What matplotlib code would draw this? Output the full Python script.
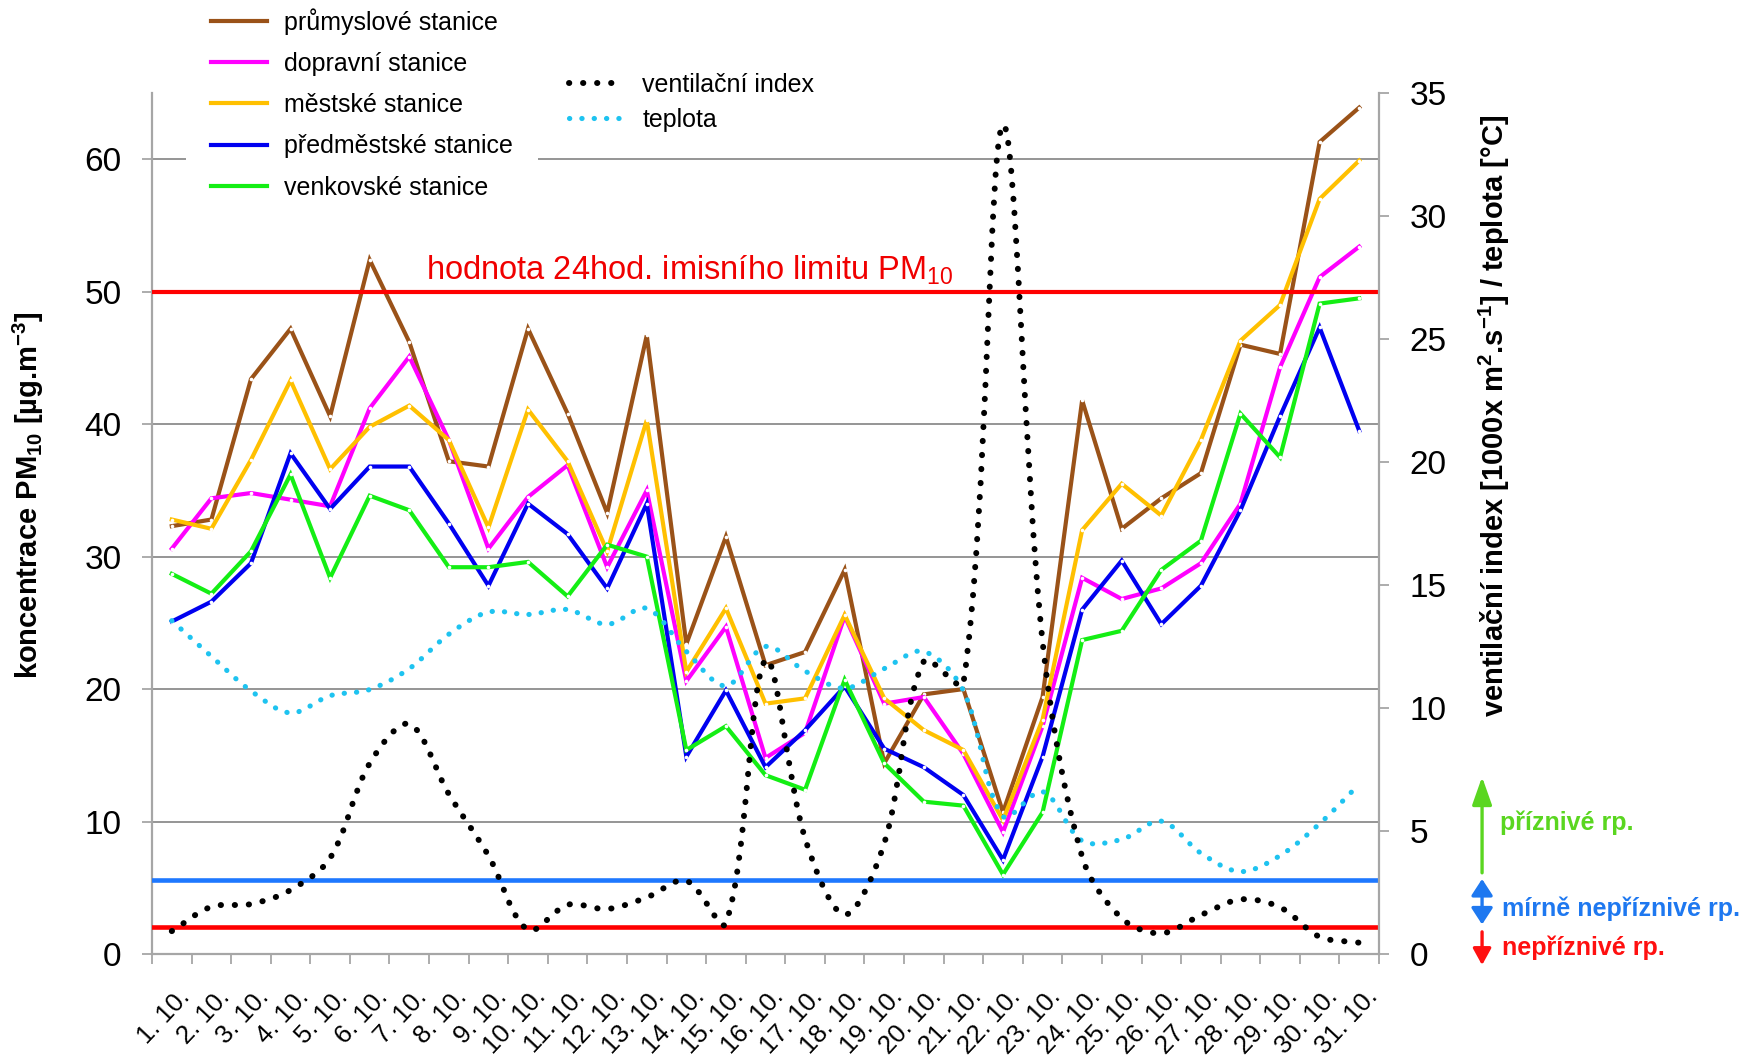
import numpy as np
import matplotlib
matplotlib.use("Agg")
import matplotlib.pyplot as plt
import matplotlib.transforms as mtransforms
from matplotlib.path import Path
from matplotlib.patches import PathPatch, FancyArrowPatch
from matplotlib.lines import Line2D

# ---------------- data ----------------
days = [f"{d}. 10." for d in range(1, 32)]

prumyslove = [32.3, 32.8, 43.4, 47.2, 40.6, 52.4, 46.2, 37.2, 36.8, 47.2, 40.8, 33.3, 46.7,
              23.4, 31.5, 21.8, 22.8, 29.0, 14.4, 19.6, 20.0, 10.7, 19.4, 41.8, 32.1, 34.4,
              36.3, 46.0, 45.3, 61.3, 63.9]
dopravni = [30.6, 34.4, 34.8, 34.3, 33.8, 41.2, 45.1, 38.8, 30.6, 34.5, 36.9, 29.2, 35.0,
            20.6, 24.7, 14.8, 16.7, 25.5, 18.9, 19.4, 15.1, 9.2, 17.2, 28.4, 26.8, 27.6,
            29.5, 34.0, 44.3, 51.1, 53.4]
mestske = [32.8, 32.1, 37.3, 43.3, 36.6, 39.8, 41.4, 38.8, 32.2, 41.1, 37.2, 30.4, 40.3,
           21.3, 26.1, 18.9, 19.3, 25.6, 19.3, 16.9, 15.4, 10.1, 17.7, 32.0, 35.5, 33.1,
           38.8, 46.3, 49.0, 57.0, 59.9]
predmestske = [25.1, 26.6, 29.5, 37.8, 33.6, 36.8, 36.8, 32.5, 27.8, 34.0, 31.7, 27.6, 34.0,
               14.9, 19.9, 14.1, 16.9, 20.2, 15.5, 14.1, 12.0, 7.1, 14.9, 26.0, 29.7, 24.9,
               27.8, 33.5, 40.6, 47.3, 39.5]
venkovske = [28.7, 27.2, 30.4, 36.2, 28.4, 34.6, 33.5, 29.2, 29.2, 29.6, 27.0, 30.9, 30.0,
             15.4, 17.2, 13.5, 12.4, 20.7, 14.4, 11.5, 11.2, 6.0, 10.7, 23.7, 24.4, 29.0,
             31.2, 40.8, 37.5, 49.1, 49.5]
ventilacni = [0.93, 1.92, 2.03, 2.6, 3.9, 7.75, 9.35, 6.5, 4.0, 0.98, 2.0, 1.83, 2.3,
              2.98, 1.25, 11.95, 4.7, 1.6, 4.5, 11.9, 11.0, 33.7, 12.7, 3.95, 1.45, 0.84,
              1.58, 2.22, 1.9, 0.7, 0.46]
teplota = [13.55, 12.1, 10.7, 9.8, 10.5, 10.75, 11.6, 13.0, 13.9, 13.8, 14.0, 13.4, 14.05,
           12.3, 10.9, 12.5, 11.5, 10.8, 11.6, 12.3, 10.7, 5.6, 6.6, 4.6, 4.66, 5.4, 4.1,
           3.35, 4.0, 5.3, 6.9]

limit_pm10 = 50
vi_favourable = 3.0
vi_unfavourable = 1.1

pm_series = [
    ("průmyslové stanice", prumyslove, "#9A5218"),
    ("dopravní stanice", dopravni, "#FF00FF"),
    ("městské stanice", mestske, "#FFC000"),
    ("předměstské stanice", predmestske, "#0000F0"),
    ("venkovské stanice", venkovske, "#14EE14"),
]

# ---------------- style ----------------
plt.rcParams["font.family"] = ["Liberation Sans", "DejaVu Sans"]
plt.rcParams["mathtext.default"] = "regular"

SPINE = "#A6A6A6"
GRID = "#8C8C8C"

fig = plt.figure(figsize=(17.44, 10.62), dpi=100)
ax1 = fig.add_axes([152 / 1744, 1 - 954 / 1062, (1379 - 152) / 1744, (954 - 93) / 1062])
ax2 = ax1.twinx()

x = np.arange(len(days))
ax1.set_xlim(-0.5, len(days) - 0.5)
ax1.set_ylim(0, 65)
ax2.set_ylim(0, 35)

# grid
ax1.set_yticks(np.arange(0, 61, 10))
ax1.yaxis.grid(True, color=GRID, lw=1.3, zorder=0)
ax1.set_axisbelow(True)
ax2.set_yticks(np.arange(0, 36, 5))

# PM lines
for name, vals, col in pm_series:
    ax1.plot(x, vals, color=col, lw=3.0, marker="o", ms=2.6, mfc="white", mew=0,
             solid_joinstyle="miter", zorder=3)

# limit line (left axis) - drawn in the right axes' layer so it sits on top
ylim_tr = mtransforms.blended_transform_factory(ax1.transAxes, ax1.transData)
limit_line = Line2D([0, 1], [limit_pm10, limit_pm10], transform=ylim_tr,
                    color="#FF0000", lw=3.0, zorder=4)
ax1.add_line(limit_line)
ax1.set_xlim(-0.5, len(days) - 0.5)
ax1.set_ylim(0, 65)
ax1.annotate("hodnota 24hod. imisního limitu PM$_{10}$", xy=(0.2233, limit_pm10),
             xycoords=ylim_tr, xytext=(0, 9), textcoords="offset points", color="#F00000",
             fontsize=23.5, ha="left", va="baseline", zorder=5)

# threshold lines (right axis)
ax2.axhline(vi_favourable, color="#1E78FF", lw=3.3, zorder=2)
ax2.axhline(vi_unfavourable, color="#FF0000", lw=3.3, zorder=2)


def smooth_path(ax, xs, ys, s=1 / 3):
    pts = ax.transData.transform(np.column_stack([xs, ys]))
    n = len(pts)
    verts = [pts[0]]
    codes = [Path.MOVETO]
    for i in range(n - 1):
        p0 = pts[i - 1] if i > 0 else pts[i]
        p1 = pts[i]
        p2 = pts[i + 1]
        p3 = pts[i + 2] if i + 2 < n else pts[i + 1]
        d01 = np.hypot(*(p1 - p0))
        d12 = np.hypot(*(p2 - p1))
        d23 = np.hypot(*(p3 - p2))
        f1 = d12 / (d01 + d12) if d01 + d12 > 0 else 0
        f2 = d12 / (d12 + d23) if d12 + d23 > 0 else 0
        c1 = p1 + (p2 - p0) * s * f1
        c2 = p2 - (p3 - p1) * s * f2
        verts += [c1, c2, p2]
        codes += [Path.CURVE4] * 3
    verts = ax.transData.inverted().transform(np.array(verts))
    return Path(verts, codes)


BLACK_STYLE = dict(lw=4.3, ls=(0, (0.05, 2.3)))
CYAN_STYLE = dict(lw=3.7, ls=(0, (0.05, 2.35)))
CYAN = "#1EC3F0"

p_t = PathPatch(smooth_path(ax2, x, teplota), fill=False, edgecolor=CYAN,
                lw=CYAN_STYLE["lw"], linestyle=CYAN_STYLE["ls"], capstyle="round", zorder=3)
ax2.add_patch(p_t)
p_v = PathPatch(smooth_path(ax2, x, ventilacni), fill=False, edgecolor="black",
                lw=BLACK_STYLE["lw"], linestyle=BLACK_STYLE["ls"], capstyle="round", zorder=4)
ax2.add_patch(p_v)
ax2.set_ylim(0, 35)

# axes / ticks
for sp in ["top", "right"]:
    ax1.spines[sp].set_visible(False)
for sp in ["top", "left", "bottom"]:
    ax2.spines[sp].set_visible(False)
for sp in ["left", "bottom"]:
    ax1.spines[sp].set_color(SPINE)
    ax1.spines[sp].set_linewidth(1.6)
ax2.spines["right"].set_color(SPINE)
ax2.spines["right"].set_linewidth(1.6)

ax1.tick_params(axis="y", direction="out", length=7, width=1.3, color=SPINE,
                labelsize=24, pad=15)
ax2.tick_params(axis="y", direction="out", length=7, width=1.3, color=SPINE,
                labelsize=24, pad=15)

ax1.set_xticks(x)
ax1.set_xticklabels(days, rotation=47, ha="right", va="center", rotation_mode="anchor")
ax1.set_xticks(np.arange(-0.5, len(days), 1), minor=True)
ax1.tick_params(axis="x", which="major", length=0, labelsize=18.5, pad=28)
ax1.tick_params(axis="x", which="minor", direction="out", length=7, width=1.3, color=SPINE)
shift = mtransforms.ScaledTranslation(14 / 100, 0, fig.dpi_scale_trans)
for lab in ax1.get_xticklabels():
    lab.set_transform(lab.get_transform() + shift)

ax1.set_ylabel("koncentrace PM$_{10}$ [µg.m$^{-3}$]", fontsize=21, fontweight="bold",
               va="center")
ax1.yaxis.set_label_coords(-0.101, 0.533)
ax2.set_ylabel("ventilační index [1000x m$^{2}$.s$^{-1}$] / teplota [°C]", fontsize=21,
               fontweight="bold", rotation=90, va="center")
ax2.yaxis.set_label_coords(1.0937, 0.625)

# legends
pm_handles = [Line2D([], [], color=c, lw=3.0) for _, _, c in pm_series]
leg1 = fig.legend(pm_handles, [n for n, _, _ in pm_series], loc="upper left",
                  bbox_to_anchor=(186 / 1744, 1 + 17 / 1062), bbox_transform=fig.transFigure,
                  borderaxespad=0, borderpad=1.0, fontsize=18, frameon=True,
                  facecolor="white", edgecolor="none", framealpha=1, fancybox=False,
                  handlelength=2.24, handletextpad=0.7, labelspacing=0.69)

h_v = Line2D([], [], color="black", lw=BLACK_STYLE["lw"], ls=BLACK_STYLE["ls"],
             dash_capstyle="round")
h_t = Line2D([], [], color=CYAN, lw=CYAN_STYLE["lw"], ls=CYAN_STYLE["ls"],
             dash_capstyle="round")
leg2 = fig.legend([h_v, h_t], ["ventilační index", "teplota"], loc="upper left",
                  bbox_to_anchor=(559 / 1744, 1 - 63 / 1062), bbox_transform=fig.transFigure,
                  borderaxespad=0, borderpad=0.4, fontsize=18, frameon=False,
                  handlelength=2.24, handletextpad=0.7, labelspacing=0.44)

# right-side annotation arrows
btr = mtransforms.blended_transform_factory(ax2.transAxes, ax2.transData)
GREEN = "#5AD620"
BLUE = "#1E78F0"
RED = "#FF1010"
arrows = [
    (3.3, 7.2, "-|>,head_length=17,head_width=6", GREEN),
    (1.2, 3.05, "<|-|>,head_length=10,head_width=6.5", BLUE),
    (0.9, -0.45, "-|>,head_length=10,head_width=5.5", RED),
]
for y0, y1, style, col in arrows:
    a = FancyArrowPatch((1.084, y0), (1.084, y1), transform=btr, arrowstyle=style,
                        mutation_scale=1, color=col, lw=2.4, shrinkA=0, shrinkB=0,
                        clip_on=False)
    fig.add_artist(a)

ax2.text(1.0986, 5.35, "příznivé rp.", transform=btr, color=GREEN, fontsize=18,
         fontweight="bold", ha="left", va="center", clip_on=False)
ax2.text(1.1, 1.85, "mírně nepříznivé rp.", transform=btr, color=BLUE, fontsize=18,
         fontweight="bold", ha="left", va="center", clip_on=False)
ax2.text(1.1, 0.26, "nepříznivé rp.", transform=btr, color=RED, fontsize=18,
         fontweight="bold", ha="left", va="center", clip_on=False)

fig.savefig("out.png", dpi=100, facecolor="white")
